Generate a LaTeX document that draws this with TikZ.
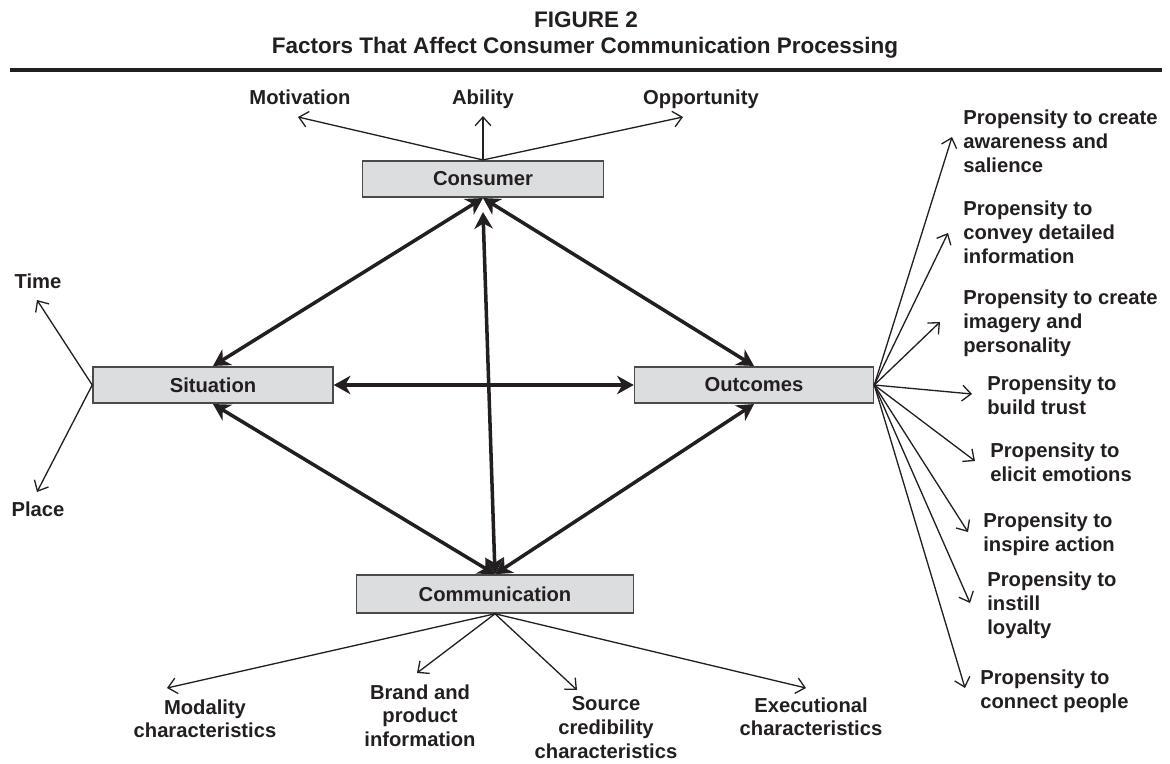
\documentclass[tikz,border=0pt]{standalone}
\usepackage{fontspec}
\setmainfont{Liberation Sans}
\usetikzlibrary{arrows.meta}

\definecolor{ink}{HTML}{231F20}
\definecolor{boxfill}{HTML}{DCDDDE}
\definecolor{boxline}{HTML}{4A4A4A}

\begin{document}
\begin{tikzpicture}[x=0.02cm,y=-0.02cm,
  every node/.style={text=ink,font=\bfseries\fontsize{11.5}{13.6}\selectfont},
  factor/.style={draw=boxline,fill=boxfill,line width=0.9pt,minimum height=0.73cm},
  link/.style={ink,line width=2pt,{Stealth[length=9.5pt,width=10.5pt,inset=3pt]}-{Stealth[length=9.5pt,width=10.5pt,inset=3pt]}},
  branch/.style={ink,line width=0.75pt,-{Straight Barb[length=5pt,width=9pt]}},
  item/.style={align=left,anchor=north west,inner sep=0pt},
  sub/.style={align=center,anchor=north,inner sep=0pt}]

\useasboundingbox (0,0) rectangle (1170,764);

% Heading
\node[anchor=base,inner sep=0pt] (fig) at (586,28) {\fontsize{12.8}{15}\selectfont FIGURE 2};
\node[anchor=base,inner sep=0pt] (title) at (585,53) {\fontsize{12.8}{15}\selectfont Factors That Affect Consumer Communication Processing};
\draw[ink,line width=1.8pt] (10,70) -- (1162,70);

% Main factors
\node[factor,minimum width=4.82cm] (cons) at (483,179) {Consumer};
\node[factor,minimum width=4.8cm] (sit) at (213,385) {Situation};
\node[factor,minimum width=4.78cm] (out) at (754,385) {Outcomes};
\node[factor,minimum width=5.54cm,minimum height=0.76cm] (comm) at (495,594) {Communication};

% Links between factors
\draw[link] (cons.south) -- (sit.north);
\draw[link] (cons.south) -- (out.north);
\draw[link] ([yshift=-0.28cm]cons.south) -- (comm.north);
\draw[link] (sit.east) -- (out.west);
\draw[link] (sit.south) -- (comm.north);
\draw[link] (out.south) -- (comm.north);

% Consumer
\node[anchor=base] (mot) at (300,104) {Motivation};
\node[anchor=base] (abil) at (483,104) {Ability};
\node[anchor=base] (opp) at (701,104) {Opportunity};
\coordinate (mot-tip) at (298,117);
\coordinate (abil-tip) at (483,116);
\coordinate (opp-tip) at (683,117);
\draw[branch] (cons.north) -- (mot-tip);
\draw[branch] (cons.north) -- (abil-tip);
\draw[branch] (cons.north) -- (opp-tip);

% Situation
\node[anchor=base] (time) at (38,288) {Time};
\node[anchor=base] (place) at (38,516) {Place};
\coordinate (time-tip) at (37,300);
\coordinate (place-tip) at (37,492);
\draw[branch] (sit.west) -- (time-tip);
\draw[branch] (sit.west) -- (place-tip);

% Outcomes
\node[item] (aware) at (963,110) {Propensity to create\\awareness and\\salience};
\node[item] (convey) at (963,201) {Propensity to\\convey detailed\\information};
\node[item] (imagery) at (963,290) {Propensity to create\\imagery and\\personality};
\node[item] (trust) at (987,376) {Propensity to\\build trust};
\node[item] (emot) at (990,443) {Propensity to\\elicit emotions};
\node[item] (action) at (983,513) {Propensity to\\inspire action};
\node[item] (loyal) at (987,572) {Propensity to\\instill\\loyalty};
\node[item] (people) at (980,670) {Propensity to\\connect people};
\coordinate (aware-tip) at (952,137);
\coordinate (convey-tip) at (948,233);
\coordinate (imagery-tip) at (940,322);
\coordinate (trust-tip) at (972,394);
\coordinate (emot-tip) at (975,461);
\coordinate (action-tip) at (968,532);
\coordinate (loyal-tip) at (970,603);
\coordinate (people-tip) at (965,688);
\draw[branch] (out.east) -- (aware-tip);
\draw[branch] (out.east) -- (convey-tip);
\draw[branch] (out.east) -- (imagery-tip);
\draw[branch] (out.east) -- (trust-tip);
\draw[branch] (out.east) -- (emot-tip);
\draw[branch] (out.east) -- (action-tip);
\draw[branch] (out.east) -- (loyal-tip);
\draw[branch] (out.east) -- (people-tip);

% Communication
\node[sub] (modal) at (205,699) {Modality\\characteristics};
\node[sub] (brand) at (420,684) {Brand and\\product\\information};
\node[sub] (source) at (606,696) {Source\\credibility\\characteristics};
\node[sub] (exec) at (811,697) {Executional\\characteristics};
\coordinate (modal-tip) at (167,688);
\coordinate (brand-tip) at (417,673);
\coordinate (source-tip) at (577,690);
\coordinate (exec-tip) at (806,688);
\draw[branch] (comm.south) -- (modal-tip);
\draw[branch] (comm.south) -- (brand-tip);
\draw[branch] (comm.south) -- (source-tip);
\draw[branch] (comm.south) -- (exec-tip);

\end{tikzpicture}
\end{document}
